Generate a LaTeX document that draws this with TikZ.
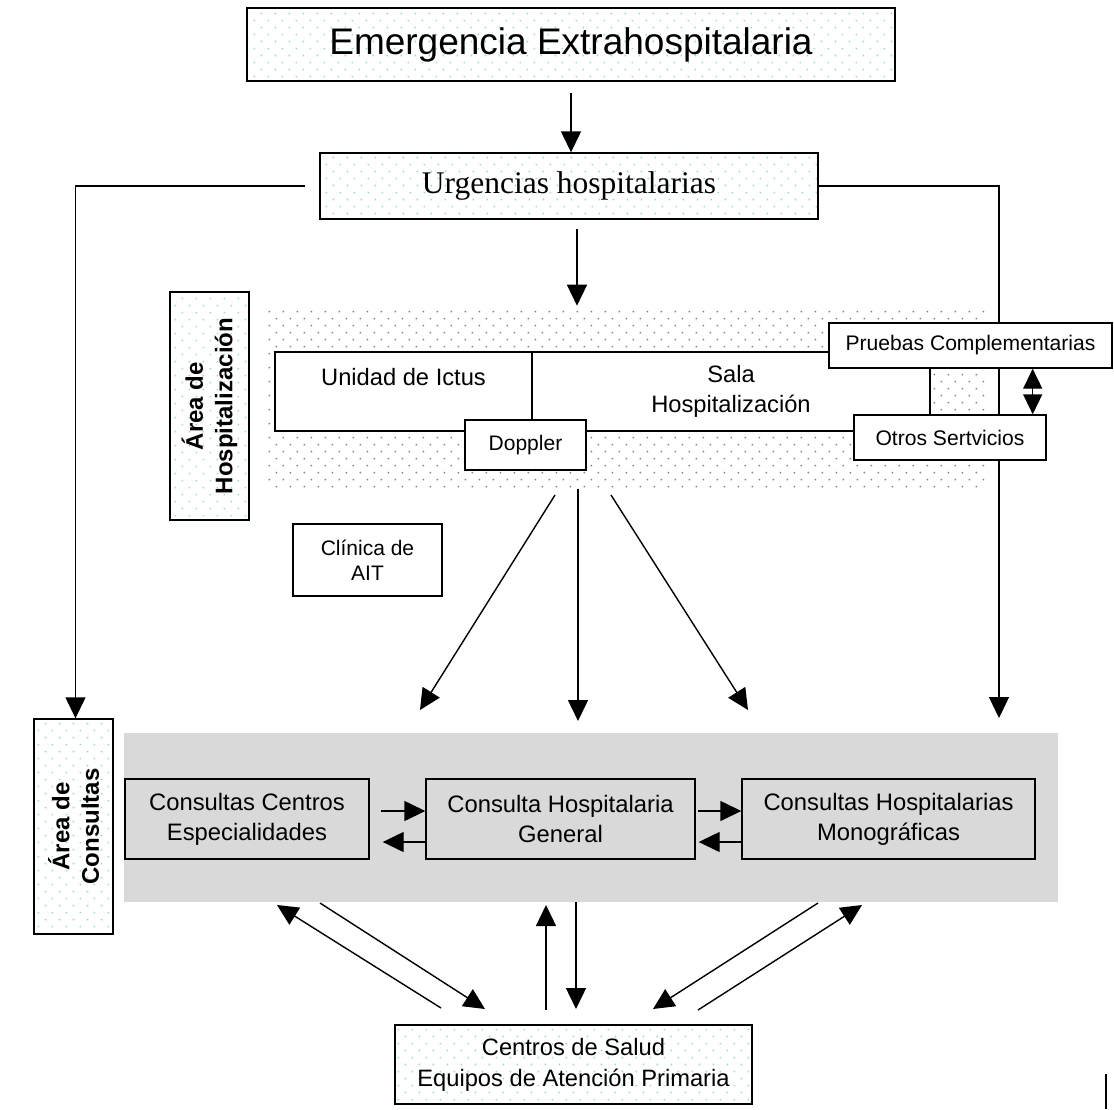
\documentclass[tikz,border=0pt]{standalone}
\usepackage{fontspec}
\setmainfont{Liberation Sans}
\newfontfamily\serifdiag{Liberation Serif}
\usetikzlibrary{arrows.meta,patterns}

\definecolor{dotcyan}{RGB}{165,208,218}
\definecolor{dotgrey}{RGB}{125,125,125}
\definecolor{consgrey}{RGB}{217,217,217}

\pgfdeclarepatternformonly{stagdots}{\pgfqpoint{0pt}{0pt}}{\pgfqpoint{14.4pt}{14.4pt}}{\pgfqpoint{14.4pt}{14.4pt}}{%
  \pgfpathrectangle{\pgfqpoint{2.8pt}{2.8pt}}{\pgfqpoint{1.6pt}{1.6pt}}%
  \pgfpathrectangle{\pgfqpoint{10pt}{10pt}}{\pgfqpoint{1.6pt}{1.6pt}}%
  \pgfusepath{fill}}

\tikzset{
  box/.style={draw, line width=1.4pt, inner sep=0pt, align=center},
  whitebox/.style={box, fill=white},
  dotbox/.style={box, pattern=stagdots, pattern color=dotcyan},
  greybox/.style={box, fill=consgrey, font=\fontsize{23.8}{30}\selectfont},
  sidelabel/.style={dotbox, rotate=90, font=\fontsize{24}{29.5}\selectfont\bfseries},
  arr/.style={line width=1.4pt, -{Triangle[length=21pt,width=20pt]}},
  dblarr/.style={line width=1.4pt, {Triangle[length=20pt,width=19pt]}-{Triangle[length=20pt,width=19pt]}},
}

\begin{document}
\begin{tikzpicture}[x=1pt,y=-1pt]
  \fill[white] (0,0) rectangle (1114,1109);
  \useasboundingbox (0,0) rectangle (1114,1109);
  % entrada
  \node[dotbox, minimum width=648pt, minimum height=73pt, font=\fontsize{37}{44}\selectfont] (emerg) at (571,44.5) {Emergencia Extrahospitalaria};
  \node[dotbox, minimum width=498pt, minimum height=66pt, font=\serifdiag\fontsize{31.5}{38}\selectfont] (urg) at (569,186) {Urgencias hospitalarias};
  \draw[arr] ([yshift=-11pt]emerg.south) -- (emerg.south |- urg.north);
  \draw[arr] ([shift={(8,9)}]urg.south) -- ++(0,77);
  % area de hospitalizacion
  \node[pattern=stagdots, pattern color=dotgrey, minimum width=722pt, minimum height=177pt, inner sep=0pt] (hosparea) at (624.5,398.5) {};
  \coordinate (rtip) at (999,718);
  \draw[arr] (urg.east) -| (rtip);
  \node[whitebox, minimum width=257pt, minimum height=79pt, font=\fontsize{23.7}{30}\selectfont] (unidad) at (403.5,391.5) {Unidad de Ictus\\\mbox{}};
  \node[whitebox, minimum width=398pt, minimum height=79pt, font=\fontsize{23.7}{30}\selectfont] (sala) at (731,391.5) {Sala\\Hospitalización};
  \node[whitebox, minimum width=121pt, minimum height=50pt, font=\fontsize{21}{25}\selectfont] (doppler) at (525.5,445) {Doppler};
  \node[whitebox, minimum width=283pt, minimum height=45pt, font=\fontsize{21.1}{25}\selectfont] (pruebas) at (970.5,345.5) {Pruebas Complementarias};
  \node[whitebox, minimum width=192pt, minimum height=45pt, font=\fontsize{21.1}{25}\selectfont] (otros) at (950,437.5) {Otros Sertvicios};
  \draw[dblarr] ([xshift=-14pt]otros.north east) -- ([xshift=-14pt]otros.north east |- pruebas.south);
  \node[sidelabel, minimum width=228pt, minimum height=79pt] (areahosp) at (209.5,406) {Área de\\Hospitalización};
  \node[whitebox, minimum width=149pt, minimum height=72pt, font=\fontsize{21}{25}\selectfont] (clinica) at (367.5,560) {Clínica de\\AIT};
  % area de consultas
  \node[fill=consgrey, minimum width=934pt, minimum height=169pt, inner sep=0pt] (consarea) at (591,817.5) {};
  \node[sidelabel, minimum width=215pt, minimum height=79pt] (areacons) at (73.5,826.5) {Área de\\Consultas};
  \node[greybox, minimum width=244pt, minimum height=80pt] (ccentros) at (247,819) {Consultas Centros\\Especialidades};
  \node[greybox, minimum width=269pt, minimum height=80pt] (cgeneral) at (560.5,819) {Consulta Hospitalaria\\General};
  \node[greybox, minimum width=293pt, minimum height=80pt] (cmono) at (888.5,819) {Consultas Hospitalarias\\Monográficas};
  \node[dotbox, minimum width=357pt, minimum height=79pt, font=\fontsize{23.7}{31}\selectfont] (salud) at (573.5,1064.5) {Centros de Salud\\Equipos de Atención Primaria};
  % areacons esta girado: su lado de arriba es east
  \draw[arr] ([xshift=-14pt]urg.west) -| ([xshift=2pt]areacons.east);
  \draw[arr] ([shift={(11,-8)}]ccentros.east) -- ([yshift=8pt]cgeneral.west);
  \draw[arr] ([yshift=-23pt]cgeneral.west) -- ([shift={(13,23)}]ccentros.east);
  \draw[arr] ([shift={(2,-8)}]cgeneral.east) -- ([yshift=8pt]cmono.west);
  \draw[arr] ([yshift=-23pt]cmono.west) -- ([shift={(3,23)}]cgeneral.east);
  % flechas sueltas
  \path
    (555,495) coordinate (h1) (420,710) coordinate (c1)
    (578,489) coordinate (h2) (578,721) coordinate (c2)
    (611,495) coordinate (h3) (748,710) coordinate (c3)
    (441,1008) coordinate (p1) (277,905) coordinate (q1)
    (320,903) coordinate (p2) (485,1009) coordinate (q2)
    (546,1010) coordinate (p3) (546,905) coordinate (q3)
    (576,902) coordinate (p4) (576,1009) coordinate (q4)
    (818,903) coordinate (p5) (653,1009) coordinate (q5)
    (698,1010) coordinate (p6) (862,905) coordinate (q6)
    (1106,1074) coordinate (m1) (1106,1109) coordinate (m2);
  \begin{scope}[arr]
    \draw (h1) -- (c1);
    \draw (h2) -- (c2);
    \draw (h3) -- (c3);
    \draw (p1) -- (q1);
    \draw (p2) -- (q2);
    \draw (p3) -- (q3);
    \draw (p4) -- (q4);
    \draw (p5) -- (q5);
    \draw (p6) -- (q6);
  \end{scope}
  \draw[line width=2pt] (m1) -- (m2);
\end{tikzpicture}
\end{document}
